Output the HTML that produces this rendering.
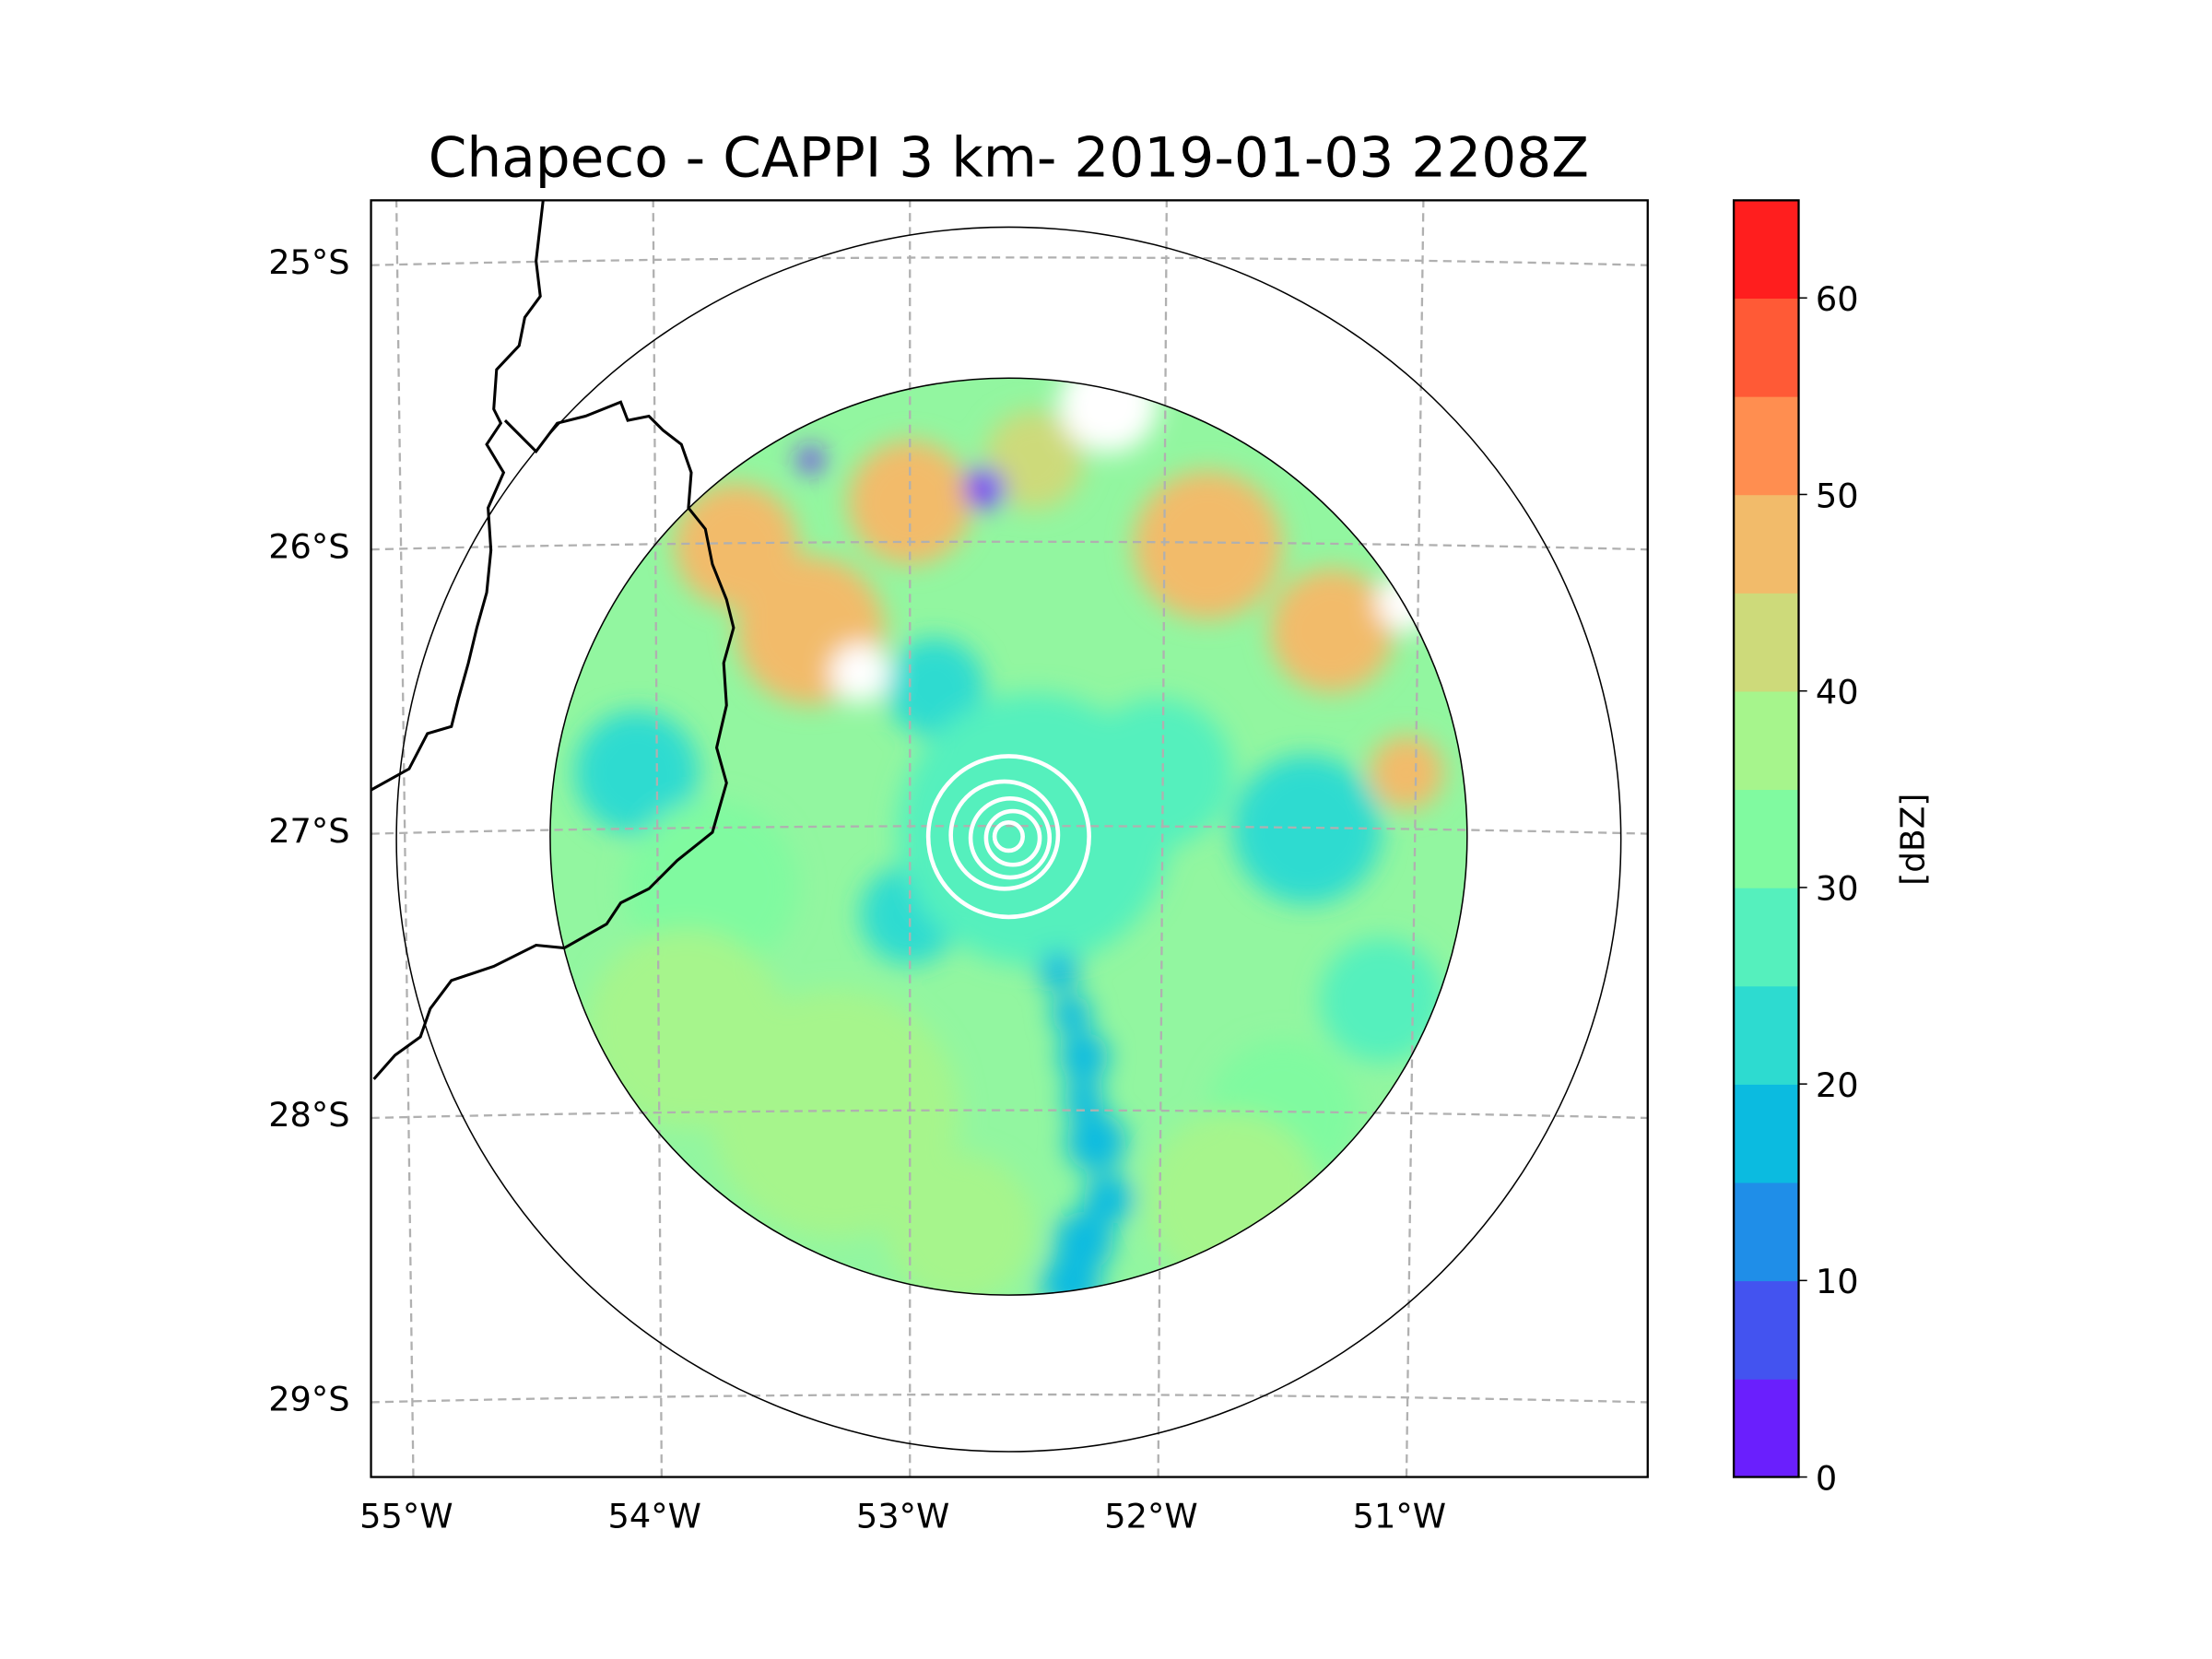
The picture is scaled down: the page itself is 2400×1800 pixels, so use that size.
<!DOCTYPE html>
<html><head><meta charset="utf-8"><style>
html,body{margin:0;padding:0;background:#fff;}
svg{display:block;font-family:"DejaVu Sans","Liberation Sans",sans-serif;}
</style></head><body>
<svg id="fig" width="2400" height="1800" viewBox="0 0 1568 1176" xmlns="http://www.w3.org/2000/svg">
<defs>
<clipPath id="radarClip"><circle cx="715" cy="593" r="325"/></clipPath>
<clipPath id="axClip"><rect x="263" y="142" width="905" height="905"/></clipPath>
<filter id="blur" x="-20%" y="-20%" width="140%" height="140%"><feGaussianBlur stdDeviation="9"/></filter>
</defs>
<text x="715" y="125" font-size="39" text-anchor="middle" fill="#000">Chapeco - CAPPI 3 km- 2019-01-03 2208Z</text>
<g id="radar" clip-path="url(#radarClip)">
<circle cx="715" cy="593" r="325" fill="#92f6a0"/>
<g id="blobs" filter="url(#blur)"></g>
</g>
<g id="grid" clip-path="url(#axClip)"></g>
<path fill="none" stroke="#000" stroke-width="2" clip-path="url(#axClip)" d="M385,142 L380,185 L383,210 L372,225 L368,245 L352,262 L350,290 L355,300 L345,315 L357,335 L346,360 L348,390 L345,420 L338,445 L332,470 L325,495 L320,515 L303,520 L290,545 L263,560"/>
<path fill="none" stroke="#000" stroke-width="2" clip-path="url(#axClip)" d="M358,298 L380,320 L395,300 L415,295 L440,285 L445,298 L460,295 L470,305 L483,315 L490,335 L488,360 L500,375 L505,400 L515,425 L520,445 L513,470 L515,500 L508,530 L515,555 L505,590 L480,610 L460,630 L440,640 L430,655 L400,672 L380,670 L350,685 L320,695 L305,715 L298,735 L280,748 L265,765"/>
<circle cx="715" cy="595" r="434" fill="none" stroke="#000" stroke-width="1"/>
<circle cx="715" cy="593" r="325" fill="none" stroke="#000" stroke-width="1"/>
<g fill="none" stroke="#fff" stroke-width="3">
<circle cx="715" cy="593" r="57"/><circle cx="712" cy="592" r="38"/><circle cx="716" cy="594" r="28"/><circle cx="718" cy="594" r="19"/><circle cx="715" cy="593" r="10"/>
</g>
<rect x="263" y="142" width="905" height="905" fill="none" stroke="#000" stroke-width="1.5"/>
<g id="ticks"></g>
<g id="cbar"></g>
<text x="1364" y="595" font-size="23.5" text-anchor="middle" transform="rotate(-90 1364 595)">[dBZ]</text>
</svg>
<script>
const levels=[0,5,10,15,20,25,30,35,40,45,50,55,60,65];
const colors=["#6a1ffd","#4353f0","#1f8ee8","#0bbbe0","#2ddbd0","#55f0bd","#80faa0","#a6f58c","#cdda7a","#f2bb6a","#ff8e50","#ff5a36","#ff1e1e"];
const cbTicks=[0,10,20,30,40,50,60];
const latTicks=[-25,-26,-27,-28,-29];
const lonTicks=[-55,-54,-53,-52,-51];
const blobLon=[-53.7,-53.4,-53.0,-52.5,-51.8,-51.3,-54.1,-53.0,-52.0,-51.4,-51.1,-52.9,-52.5,-53.3,-52.8,-51.5,-52.4,-52.3,-52.25,-52.3,-52.35,-53.2,-51.3,-52.2,-51.0,-52.7,-53.4,-51.0,-53.8,-52.35,-52.3,-52.2,-53.9,-51.7];
const blobLat=[-26.0,-26.3,-25.85,-25.7,-26.0,-26.3,-26.8,-27.3,-26.8,-27.0,-27.6,-26.5,-27.0,-28.0,-28.4,-28.0,-27.5,-27.8,-28.1,-28.45,-28.6,-26.45,-25.55,-25.5,-26.2,-25.8,-25.7,-26.8,-27.2,-27.65,-27.95,-28.3,-27.7,-28.3];
const blobDbz=[47,45,45,42,45,45,22,20,25,22,25,22,28,37,37,33,18,15,15,15,15,-1,-1,-1,-1,2,3,45,30,15,15,15,37,37];
const blobR=[0.25,0.3,0.25,0.2,0.3,0.25,0.25,0.2,0.3,0.3,0.25,0.2,0.55,0.5,0.3,0.3,0.08,0.1,0.12,0.12,0.12,0.12,0.2,0.2,0.12,0.08,0.05,0.15,0.35,0.08,0.08,0.1,0.4,0.35];
const NS="http://www.w3.org/2000/svg";
function xLon(lon){return 645+(lon+53)*176;}
function yLat(lat){return 588-(lat+27)*201.5;}
function yDbz(v){return 1047-v*13.93;}
function colorFor(v){if(v<0)return "#ffffff";let i=Math.min(colors.length-1,Math.floor(v/5));return colors[i];}
const blobs=document.getElementById('blobs');
for(let i=0;i<blobLon.length;i++){
 const c=document.createElementNS(NS,'circle');
 c.setAttribute('cx',xLon(blobLon[i]));c.setAttribute('cy',yLat(blobLat[i]));
 c.setAttribute('r',blobR[i]*176);c.setAttribute('fill',colorFor(blobDbz[i]));
 
 
 blobs.appendChild(c);
}
const grid=document.getElementById('grid'),ticks=document.getElementById('ticks');
latTicks.forEach(lat=>{
 const y=yLat(lat);
 const p=document.createElementNS(NS,'path');
 p.setAttribute('d',`M263,${y+3} Q715,${y-8} 1168,${y+3}`);
 p.setAttribute('fill','none');p.setAttribute('stroke','#b0b0b0');p.setAttribute('stroke-width','1.5');p.setAttribute('stroke-dasharray','6,4');
 
 
 grid.appendChild(p);
 const t=document.createElementNS(NS,'text');
 t.setAttribute('x',248);t.setAttribute('y',y+9);t.setAttribute('font-size','24');t.setAttribute('text-anchor','end');
 t.textContent=Math.abs(lat)+'°S';
 
 
 ticks.appendChild(t);
});
lonTicks.forEach(lon=>{
 const xb=xLon(lon), xt=xb+(lon+53)*6;
 const p=document.createElementNS(NS,'line');
 p.setAttribute('x1',xb);p.setAttribute('y1',1047);p.setAttribute('x2',xt);p.setAttribute('y2',142);
 p.setAttribute('stroke','#b0b0b0');p.setAttribute('stroke-width','1.5');p.setAttribute('stroke-dasharray','6,4');
 
 
 grid.appendChild(p);
 const t=document.createElementNS(NS,'text');
 t.setAttribute('x',xb-5);t.setAttribute('y',1083);t.setAttribute('font-size','24');t.setAttribute('text-anchor','middle');
 t.textContent=Math.abs(lon)+'°W';
 
 
 ticks.appendChild(t);
});
const cb=document.getElementById('cbar');
for(let i=0;i<colors.length;i++){
 const r=document.createElementNS(NS,'rect');
 const y1=yDbz(levels[i+1]),y0=yDbz(levels[i]);
 r.setAttribute('x',1229);r.setAttribute('y',y1);r.setAttribute('width',46);r.setAttribute('height',y0-y1+0.5);r.setAttribute('fill',colors[i]);
 
 
 cb.appendChild(r);
}
const fr=document.createElementNS(NS,'rect');
fr.setAttribute('x',1229);fr.setAttribute('y',142);fr.setAttribute('width',46);fr.setAttribute('height',905);fr.setAttribute('fill','none');fr.setAttribute('stroke','#000');fr.setAttribute('stroke-width','1.5');


cb.appendChild(fr);
cbTicks.forEach(v=>{
 const y=yDbz(v);
 const l=document.createElementNS(NS,'line');
 l.setAttribute('x1',1275);l.setAttribute('x2',1281);l.setAttribute('y1',y);l.setAttribute('y2',y);l.setAttribute('stroke','#000');
 
 
 cb.appendChild(l);
 const t=document.createElementNS(NS,'text');
 t.setAttribute('x',1287);t.setAttribute('y',y+9);t.setAttribute('font-size','24');
 t.textContent=v;
 
 
 cb.appendChild(t);
});
</script>
</body></html>
